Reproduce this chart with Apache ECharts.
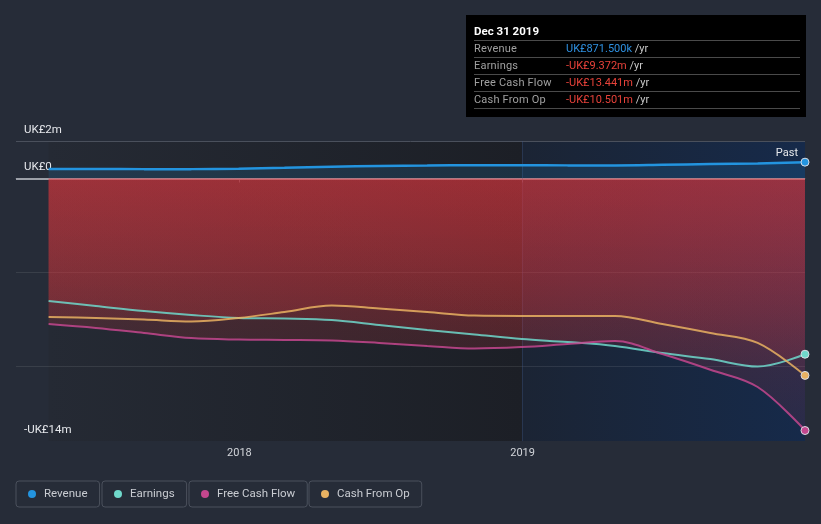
<!DOCTYPE html>
<html>
<head>
<meta charset="utf-8">
<script src="https://cdn.jsdelivr.net/npm/echarts@6/dist/echarts.min.js"></script>
<style>
html,body{margin:0;padding:0;background:#262c38;}
#chart{width:821px;height:524px;}
</style>
</head>
<body>
<div id="chart"></div>
<script>
// ---- data (UK£ millions) ----
const dates = ['2017-04-30','2017-06-30','2017-08-31','2017-10-31','2017-12-31','2018-02-28','2018-04-30','2018-06-30','2018-08-31','2018-10-31','2018-12-31','2019-02-28','2019-04-30','2019-06-30','2019-08-31','2019-10-31','2019-12-31'];
const revenue      = [0.51, 0.51, 0.50, 0.50, 0.52, 0.57, 0.63, 0.67, 0.69, 0.71, 0.71, 0.70, 0.70, 0.73, 0.77, 0.80, 0.8715];
const earnings     = [-6.53, -6.80, -7.07, -7.28, -7.44, -7.47, -7.55, -7.81, -8.08, -8.32, -8.56, -8.72, -8.93, -9.31, -9.63, -10.03, -9.372];
const freeCashFlow = [-7.76, -7.97, -8.24, -8.51, -8.59, -8.61, -8.64, -8.77, -8.93, -9.07, -8.99, -8.83, -8.67, -9.36, -10.20, -11.12, -13.441];
const cashFromOp   = [-7.39, -7.44, -7.52, -7.63, -7.44, -7.12, -6.77, -6.93, -7.12, -7.31, -7.33, -7.33, -7.33, -7.76, -8.24, -8.77, -10.501];
const seriesNames = ['Revenue', 'Earnings', 'Free Cash Flow', 'Cash From Op'];
const xTickDates = ['2018-01-01', '2019-01-01'];
const yTickValues = [2, 0, -14];
const yTickLabels = ['UK£2m', 'UK£0', '-UK£14m'];
const yGridValues = [-5, -10];
const pastStart = '2019-01-01';
const pastLabel = 'Past';
const tooltipTitle = 'Dec 31 2019';
const xMin = '2017-03-19';
const xMax = '2019-12-31';

// ---- styling ----
const colors = ['#2394df', '#6fd8cb', '#c4478e', '#e9b262'];
const FONT = 'Roboto, "Noto Sans", sans-serif';
const allValues = [revenue, earnings, freeCashFlow, cashFromOp];
const last = dates.length - 1;
const ts = d => Date.parse(d + 'T00:00:00Z');

function fmt(v) {
  const a = Math.abs(v);
  const s = a < 1 ? (a * 1000).toFixed(3) + 'k' : a.toFixed(3) + 'm';
  return (v < 0 ? '-' : '') + 'UK£' + s;
}

function pairs(vals) { return dates.map((d, i) => [ts(d), vals[i]]); }

const redArea = {
  color: new echarts.graphic.LinearGradient(0, 0, 0, 1, [
    {offset: 0, color: 'rgba(228,55,62,0.40)'},
    {offset: 1, color: 'rgba(228,55,62,0.13)'}
  ])
};

const dataSeries = seriesNames.map((name, i) => ({
  name: name,
  type: 'line',
  data: pairs(allValues[i]),
  smooth: 0.35,
  z: 3,
  symbol: (val, p) => p.dataIndex === last ? 'circle' : 'none',
  symbolSize: 8,
  showSymbol: true,
  itemStyle: {color: colors[i], borderColor: '#d8dce4', borderWidth: 1},
  lineStyle: {color: colors[i], width: i === 0 ? 2.5 : 2, opacity: i === 0 ? 1 : 0.85},
  areaStyle: i === 0 ? {color: 'rgba(35,148,223,0.22)'} : redArea,
  emphasis: {disabled: true},
  animation: false
}));

const bgSeries = {
  name: 'bg',
  type: 'line',
  data: pairs(revenue),
  symbol: 'none',
  lineStyle: {opacity: 0},
  silent: true,
  z: 0,
  tooltip: {show: false},
  markArea: {
    silent: true,
    z: 0,
    data: [
      [{xAxis: ts(dates[0]), yAxis: 2, itemStyle: {color: new echarts.graphic.LinearGradient(0, 0, 1, 0, [
          {offset: 0, color: '#252a34'}, {offset: 1, color: '#1c1f26'}])}},
       {xAxis: ts(pastStart), yAxis: -14}],
      [{xAxis: ts(pastStart), yAxis: 2, itemStyle: {color: new echarts.graphic.LinearGradient(0, 0, 1, 0, [
          {offset: 0, color: '#1b2434'}, {offset: 1, color: '#162a4a'}])},
        label: {show: true, position: 'insideTopRight', formatter: pastLabel, color: '#e6e8ec', fontSize: 11, fontFamily: FONT, distance: 7}},
       {xAxis: ts(xMax), yAxis: -14}]
    ]
  },
  markLine: {
    silent: true,
    symbol: 'none',
    z: 1,
    label: {show: false},
    data: [
      {yAxis: 2, lineStyle: {color: '#4a505c', width: 1, type: 'solid'}},
      {yAxis: yGridValues[0], lineStyle: {color: 'rgba(255,255,255,0.09)', width: 1, type: 'solid'}},
      {yAxis: yGridValues[1], lineStyle: {color: 'rgba(255,255,255,0.09)', width: 1, type: 'solid'}},
      {yAxis: 0, lineStyle: {color: '#9ca0a8', width: 2, type: 'solid'}},
      {xAxis: ts(pastStart), lineStyle: {color: 'rgba(60,90,140,0.35)', width: 1, type: 'solid'}}
    ]
  },
  animation: false
};

const legendLefts = [16, 102, 189, 309];
const legends = seriesNames.map((n, i) => ({
  data: [n],
  left: legendLefts[i],
  top: 481,
  orient: 'horizontal',
  icon: 'circle',
  itemWidth: 8,
  itemHeight: 8,
  itemStyle: {borderWidth: 0},
  padding: [7, 12, 7, 12],
  borderColor: '#4a505c',
  borderWidth: 1,
  borderRadius: 3,
  selectedMode: false,
  textStyle: {color: '#c9ccd2', fontSize: 11.5, fontFamily: FONT, padding: [0, 0, 0, 3]}
}));

function tipHtml() {
  let rows = '';
  seriesNames.forEach((n, i) => {
    const v = allValues[i][last];
    const vc = v < 0 ? '#e8423a' : '#2e90e0';
    rows += '<div style="display:flex;height:16px;line-height:16px;border-bottom:1px solid #4a4a4a;">' +
      '<div style="width:92px;color:#a0a0a0;letter-spacing:0.2px;">' + n + '</div>' +
      '<div><span style="color:' + vc + ';">' + fmt(v) + '</span><span style="color:#c8c8c8;"> /yr</span></div></div>';
  });
  return '<div style="width:326px;padding:8px 6px 8px 8px;font-family:' + FONT.replace(/"/g, "'") + ';font-size:11px;">' +
    '<div style="height:17px;line-height:17px;border-bottom:1px solid #4a4a4a;color:#fff;font-weight:bold;font-size:11.5px;">' + tooltipTitle + '</div>' +
    rows + '</div>';
}

const chart = echarts.init(document.getElementById('chart'));
chart.setOption({
  backgroundColor: '#262c38',
  animation: false,
  textStyle: {fontFamily: FONT},
  grid: {left: 16, right: 16, top: 141, bottom: 83, containLabel: false},
  xAxis: {
    type: 'value',
    min: ts(xMin),
    max: ts(xMax),
    splitLine: {show: false},
    axisLine: {show: true, lineStyle: {color: '#4f5563', width: 1}},
    axisTick: {show: true, customValues: xTickDates.map(ts), length: 4, lineStyle: {color: '#5a606c'}},
    axisLabel: {
      customValues: xTickDates.map(ts),
      formatter: v => String(new Date(v).getUTCFullYear()),
      color: '#d2d5da', fontSize: 11, margin: 7, fontFamily: FONT
    }
  },
  yAxis: {
    type: 'value',
    min: -14,
    max: 2,
    splitLine: {show: false},
    axisLine: {show: false},
    axisTick: {show: false},
    axisLabel: {
      inside: true,
      customValues: yTickValues,
      formatter: v => yTickLabels[yTickValues.indexOf(v)] || '',
      verticalAlign: 'bottom',
      margin: 8,
      padding: [0, 0, 5, 0],
      color: '#e6e8ec', fontSize: 11.5, fontFamily: FONT
    }
  },
  legend: legends,
  tooltip: {
    trigger: 'item',
    alwaysShowContent: true,
    position: [466, 15],
    backgroundColor: '#000',
    borderWidth: 0,
    padding: 0,
    extraCssText: 'border-radius:0;box-shadow:none;',
    transitionDuration: 0,
    formatter: tipHtml
  },
  series: [bgSeries].concat(dataSeries)
});
chart.dispatchAction({type: 'showTip', seriesIndex: 1, dataIndex: last});
</script>
</body>
</html>
